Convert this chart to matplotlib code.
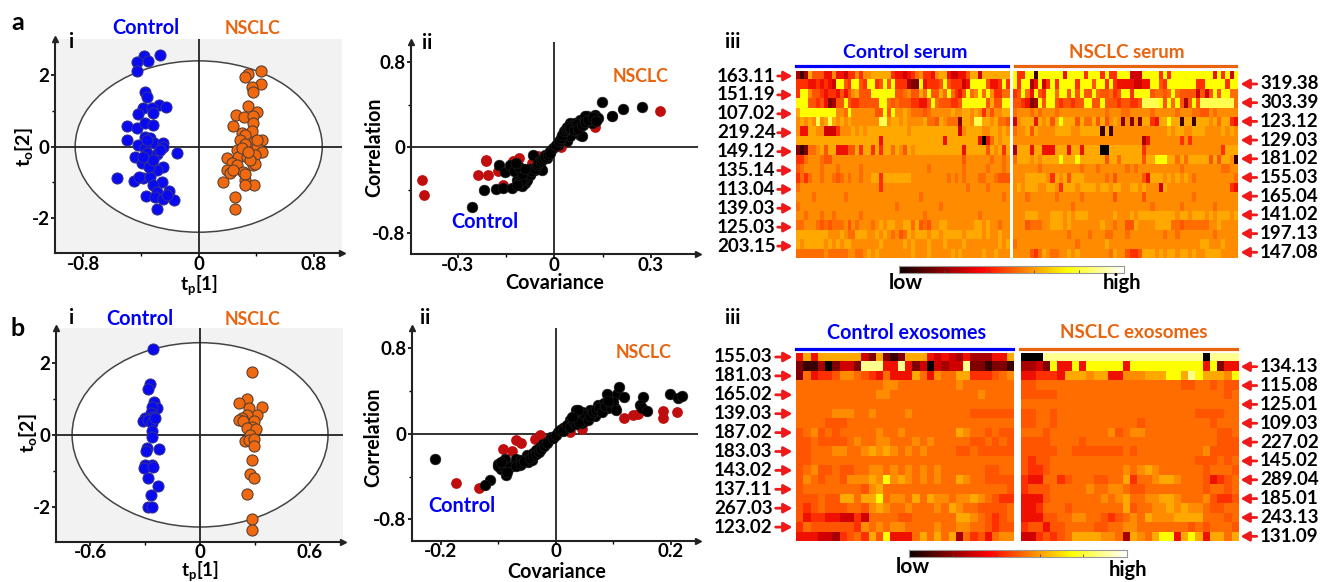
#!/usr/bin/env python
# -*- coding: utf-8 -*-
import numpy as np
import matplotlib
matplotlib.use('agg')
import matplotlib.pyplot as plt
from matplotlib.colors import ListedColormap
from matplotlib.patches import Ellipse

plt.rcParams['font.family'] = ['Lato', 'DejaVu Sans']
plt.rcParams['font.weight'] = 'bold'
plt.rcParams['mathtext.fontset'] = 'custom'
plt.rcParams['mathtext.rm'] = 'Lato:bold'
plt.rcParams['mathtext.default'] = 'rm'

W, H = 1323, 582
BLUE = '#0000f5'
ORANGE = '#e8640f'
# colour of each heatmap level, flatter around the orange than the plain hot map
LEVELS = ['#000000', '#3a0000', '#800000', '#a80000', '#d00000', '#f01000', '#ff3000', '#ff5500',
          '#ff6c00', '#ff8c00', '#ffa800', '#ffff00', '#ffff50', '#ffff90', '#ffffc8', '#ffffff']

## Score plots, serum
a_ctrl_x = [-.268, -.379, -.349, -.425, -.430, -.370, -.358, -.273, -.229, -.388, -.326, -.423, -.314, -.499, -.430,
            -.372, -.319, -.499, -.372, -.338, -.418, -.310, -.245, -.372, -.361, -.291, -.245, -.153, -.442, -.395,
            -.338, -.250, -.291, -.569, -.449, -.384, -.412, -.338, -.257, -.314, -.203, -.368, -.291, -.303, -.245,
            -.171, -.291, -.361, -.270, -.345, -.314, -.384, -.222]
a_ctrl_y = [2.56, 2.53, 2.40, 2.35, 2.11, 1.52, 1.38, 1.17, 1.11, 1.07, 1.07, .91, .93, .58, .51,
            .65, .60, .19, .26, .23, .03, .09, .11, -.05, -.19, -.20, 0, -.17, -.30, -.47,
            -.56, -.58, -.65, -.88, -.95, -.88, -.84, -.84, -.98, -1.07, -1.24, -1.37, -1.28, -1.40, -1.46,
            -1.50, -1.75, .19, -.09, -.56, -.37, -.28, -1.35]
a_nsclc_x = [.430, .345, .321, .430, .372, .375, .340, .402, .259, .317, .379, .379, .236, .298, .372, .321, .287,
             .437, .368, .321, .402, .264, .437, .194, .275, .333, .391, .229, .268, .379, .194, .217, .310, .391,
             .321, .321, .171, .386, .321, .252, .252, .356, .298, .345, .402, .240]
a_nsclc_y = [2.12, 2.03, 1.93, 1.75, 1.66, 1.51, 1.13, .96, .88, .82, .84, .67, .56, .39, .42, .33, .19,
             .19, .09, .07, 0, -.09, -.14, -.31, -.28, -.28, -.23, -.47, -.51, -.51, -.65, -.74, -.70, -.48,
             -.93, -.76, -1.0, -1.07, -1.07, -1.42, -1.74, -.37, -.05, -.14, .19, -.65]

## Score plots, exosomes
b_ctrl_x = [-.260, -.273, -.285, -.251, -.233, -.264, -.269, -.255, -.300, -.313, -.287, -.264, -.245, -.264, -.264,
            -.291, -.296, -.224, -.264, -.300, -.309, -.255, -.282, -.231, -.271, -.285, -.264]
b_ctrl_y = [2.40, 1.42, 1.27, .91, .76, .79, .60, .51, .48, .39, .42, .33, .47, .11, -.07,
            -.37, -.45, -.39, -.84, -.84, -.93, -.91, -1.21, -1.42, -1.69, -2.0, -2.0]
b_nsclc_x = [.282, .258, .215, .340, .269, .309, .255, .227, .215, .295, .236, .282, .255, .305, .273, .245, .269,
             .295, .295, .282, .273, .296, .258, .282, .285]
b_nsclc_y = [1.74, 1.0, .90, .77, .74, .56, .54, .48, .42, .39, .39, .23, .19, .16, 0, -.16, -.14,
             -.11, -.30, -.70, -1.10, -1.21, -1.66, -2.35, -2.66]

## Loading plots, serum
a_black_x = [.147, .215, .272, .179, -.257, -.219, -.183, -.159, -.133, -.102, -.172, -.154, -.138, -.107, -.097,
             -.091, -.076, -.060, -.045, -.065, -.045, -.029, -.013, -.003, .012, .023, .033, .049, .028, .049,
             .080, .101, .127, .137, .080, .085, .116, .038, .059, .070, .090, .111, .127, .049, -.024, -.039,
             -.117, -.102, -.102, -.086, .018, .040, .065, .095, -.125, -.090, -.080, -.110,
             -.095, -.085, -.075, -.070, -.060, -.055, -.050, -.040, -.035, -.030, -.020, -.015, .005, .015, .020,
             .025, .030, .035, .040, .045, .050, .060, .070, .075, .085, .095, .105, .120, .130,
             -.105, -.115, -.100, -.110, -.090, -.120]
a_black_y = [.425, .363, .378, .290, -.559, -.400, -.390, -.381, -.381, -.356, -.163, -.231, -.169, -.194, -.272,
             -.334, -.256, -.209, -.178, -.069, -.116, -.069, -.037, -.006, .025, .088, .134, .228, .119, .166,
             .259, .290, .306, .275, .119, .103, .228, .056, .134, .197, .212, .259, .259, .103, -.100, -.209,
             -.303, -.366, -.225, -.303, .060, .170, .230, .290, -.220, -.240, -.200, -.330,
             -.300, -.270, -.250, -.220, -.200, -.170, -.150, -.130, -.110, -.090, -.070, -.050, .020, .060, .090,
             .120, .150, .170, .190, .200, .180, .160, .220, .170, .210, .240, .260, .280, .250,
             -.320, -.350, -.250, -.180, -.200, -.150]
a_red_x = [.329, -.413, -.407, -.213, -.213, -.238, -.207, -.174, -.130, -.109, -.159, .127, .179, .021, -.050, -.071, -.076]
a_red_y = [.344, -.303, -.444, -.116, -.131, -.259, -.259, -.225, -.131, -.100, -.356, .187, .290, 0, -.084, -.147, -.240]

## Loading plots, exosomes
b_black_x = [-.210, -.115, -.124, -.101, -.095, -.086, -.089, -.074, -.063, -.048, -.051, -.040, -.028, -.016, -.008,
             .004, .016, .024, .035, .041, .039, .053, .059, .074, .088, .106, .091, .103, .109, .119, .152, .146,
             .149, .159, .199, .213, .219, .048, .024, .013, .059, .083, -.069, -.060, -.042, -.034, -.022, -.010,
             .030, .045, .068, .080,
             -.100, -.090, -.080, -.070, -.060, -.055, -.045, -.040, -.035, -.030, -.025, -.020, -.015, -.005, .000,
             .008, .012, .020, .025, .030, .035, .040, .045, .050, .055, .060, .065, .070, .075, .080, .085, .095,
             .100, .105, .090, .038, .028, -.085, -.095]
b_black_y = [-.238, -.434, -.481, -.278, -.325, -.388, -.231, -.294, -.294, -.263, -.200, -.184, -.122, -.075, -.028,
             .019, .066, .128, .222, .206, .159, .159, .206, .269, .369, .369, .238, .238, .441, .341, .347, .269,
             .238, .213, .372, .331, .353, .113, .081, .050, .222, .284, -.231, -.247, -.247, -.153, -.091, -.044,
             .150, .100, .170, .240,
             -.300, -.300, -.310, -.300, -.280, -.250, -.230, -.210, -.190, -.170, -.140, -.110, -.090, -.040, -.010,
             .040, .030, .080, .060, .120, .090, .110, .200, .180, .130, .170, .200, .220, .240, .200, .260, .250,
             .300, .220, .310, .220, .160, -.360, -.260]
b_red_x = [-.174, -.134, -.091, -.076, -.069, -.061, -.037, -.028, .119, .134, .142, .187, .187, .210, .024, .045]
b_red_y = [-.459, -.503, -.138, -.159, -.059, -.084, -.044, -.013, .144, .175, .181, .216, .150, .206, .019, .044]

## Heatmap levels, one hex digit per cell (0 black ... f white)
control_serum = [
    "313a77755 955466969 9aaaaa655 456896659 aa544557a a4aaaaaaa",
    "666556565 4bb76bb76 bb67b7b66 6322b5666 7b766645b bbb7556b6",
    "6bb977656 657579a77 7bbbbbb77 8977a8b77 a8b8657b8 9b8b96688",
    "bbb776752 377b76677 777bb8787 7766557b8 777667bbb bbb7a77bb",
    "abbbbbbbb b998b9999 9977b7b99 a98887899 999a99aa9 a969799aa",
    "9a9a9c9ac a9a9a9999 999cc9aa9 a9999a887 a98882aa9 ccaa9a887",
    "955aa9944 46999a9a9 aaaaaaaaa a9aaaaaaa aaaaa49aa aa99aa9a9",
    "aaaaaaaaa aaaaaaaaa aaa5aaaaa aaaaaaaaa a5aaaaaaa a5058a9aa",
    "212889a7a a55577a6a a6a6aa8a9 7a9aaaaaa aaaaaa5aa aaa7a9a6a",
    "668999877 999999999 999999999 999999999 999999799 999989989",
    "789999899 989999989 999999999 999999899 999999899 999899989",
    "686899899 878989989 9aa6aaaaa aa9999999 998989899 988998777",
    "899999999 999999999 999699999 999999999 999999989 999899999",
    "999989999 999899999 999999999 999989999 999999999 999999989",
    "899999999 999999999 999999989 999999999 899999999 999999999",
    "998999899 899999989 999999999 999998999 999999999 989999999",
    "889998787 888979899 989a9aa99 aa8a78799 aa9999999 aa9a99899",
    "aaaaaaaa9 99a988aaa 99a9a9897 8a9aaa9aa 9aaaaa9aa aa9a99a99",
    "a9aaaaa9a 9a9aa9999 999a99999 a9a999a99 9a9999a99 999999a9a",
    "888888898 888899889 a9a999999 99a999a99 999a9a999 99a99a999",
]
nsclc_serum = [
    "b66bb1bbb bbb5bbbb6 bbb6b66bb b444bbbb6 b6bbbbbbb bbb5b6b4b",
    "b6bb35b46 b6bbbb6bb b7bb6b655 554455bb7 6bbbbbbb6 6bbbbb6bb",
    "67b85b76b b8bb7b7b7 7b877867b b6bbbb788 78b877774 747b7bb88",
    "776523b7b b7677677b b77b77767 7667ccccb 7b8b737b7 cccccccc8",
    "899989899 989999999 999989998 899999899 999899988 779899999",
    "49aaa5a9a 7abaaa7a8 8a7a79a92 9292aa65a abaa1aa1a aa9a8aa65",
    "899a7a999 9aaaa99aa aaa1a1999 999999999 9a9aa99aa a9999a9a9",
    "999999999 999999999 999999999 999935999 999969699 999999999",
    "3aaa5aa55 5aaa5aa5a aaa00aaaa aaaa69999 999999999 999996aaa",
    "8aaa9a9aa aabaaabaa aaaa7aa8a aaaa7aabb baa8a8aaa aa7a7aa91",
    "999999899 999999989 998999999 898999999 999989999 999998899",
    "999aaaaa9 6a9a7aaa9 999989799 999975aaa 9a9a9a989 999999998",
    "9a9aaa99a a96aaa9aa aa9aa9aa9 9aa9a9994 a99999999 999999965",
    "999899999 989999989 999999799 999979999 999999989 999999999",
    "999999999 999998999 999999999 999999899 999989999 999899999",
    "999aaa999 aaa9a9aaa 999999a99 9a9aaaaaa aaa9aa9aa a9a9aaa9a",
    "999788899 aaa9a9999 999a99899 77a9999aa aa8878888 8899a9999",
    "999999999 999989999 899988999 899999999 899899999 999899999",
    "899999999 999999899 9999a9999 999999999 999999999 aa999a999",
    "9999768a9 8899a9a99 999998a99 7667aaa9a 9aa9aa9a9 9aaaa9999",
]
control_exo = [
    "5a5aaaaaa4 2a212aaa54 543533355a",
    "211302442d dd55d52404 344d221221",
    "2856679987 6585 55a859 88aa666789",
    "8888888888 8899888888 8898888888",
    "8888888888 8998888888 8888898888",
    "8888888888 8888888888 8888888888",
    "8888899988 9888898888 8888777777",
    "8888777888 8888888888 8888888888",
    "7897878888 8988988888 88a9887877",
    "7787777898 8998889898 8888778787",
    "7788899889 a9a9898988 8877877777",
    "7788888888 8888888888 8888888888",
    "7897787788 9989898989 8888887788",
    "7987887999 a9b9a98989 88a9887777",
    "7888888887 9a88888888 8888888887",
    "777877aa8a ab8998a8a9 9899a98766",
    "7678777887 9a98898889 8a98877778",
    "7566554464 8888778888 88aa987678",
    "6877777769 8989988889 8899887677",
    "5554436786 a7b5558a8a 8a38675899",
]
nsclc_exo = [
    "000ddddddd dddddddddd ddddd0dddd",
    "3342b55b5b bbbb5bbbbb bbbbb5b255",
    "556665aaa9 aa55999aaa bbadbaaa9b",
    "7788888888 8888888888 8877887877",
    "7777788888 8888888888 8888888878",
    "8888888888 8888888888 8888888888",
    "7788788888 8888888888 8888777788",
    "7788788888 8888887888 8888887888",
    "8887888888 8897899888 8888888778",
    "7777888878 8888888888 8888888777",
    "7777788777 7777878888 8888897777",
    "7677888888 8888888888 8888777878",
    "7667888888 8888989a98 8888878887",
    "6558867888 7788a6889a a988875678",
    "6777888889 8899877888 8888878878",
    "5557888888 8989a8899a a988897667",
    "5568887888 8888a78899 a9a9987788",
    "5557788998 8767898a99 9aaaa88878",
    "6775778888 7788998888 8887878887",
    "4467678aaa a9983a98ab b5aba5aa8a",
]

## m/z labels beside the heatmaps
a_left = ['163.11', '151.19', '107.02', '219.24', '149.12', '135.14', '113.04', '139.03', '125.03', '203.15']
a_right = ['319.38', '303.39', '123.12', '129.03', '181.02', '155.03', '165.04', '141.02', '197.13', '147.08']
b_left = ['155.03', '181.03', '165.02', '139.03', '187.02', '183.03', '143.02', '137.11', '267.03', '123.02']
b_right = ['134.13', '115.08', '125.01', '109.03', '227.02', '145.02', '289.04', '185.01', '243.13', '131.09']


fig = plt.figure(figsize=(W / 100, H / 100), dpi=100)


def px_axes(left, top, right, bottom):
    return fig.add_axes([left / W, 1 - bottom / H, (right - left) / W, (bottom - top) / H])


def label(x, y, s, color='black', size=13.5, ha='center', rotation=0):
    fig.text(x / W, 1 - y / H, s, color=color, fontsize=size, ha=ha, va='center', rotation=rotation)


def base_axes(ax, xlim, ylim, xticks, yticks, xminor, yminor):
    ax.set_xlim(xlim)
    ax.set_ylim(ylim)
    ax.set_xticks(xticks)
    ax.set_yticks(yticks)
    ax.set_xticks(xminor, minor=True)
    ax.set_yticks(yminor, minor=True)
    ax.set_xticklabels(['%g' % t for t in xticks])
    ax.set_yticklabels(['%g' % t for t in yticks])
    ax.tick_params(labelsize=13.5, length=3, width=1.2, pad=1)
    ax.tick_params(axis='x', pad=-1)
    ax.tick_params(which='minor', length=2, width=1)
    for s in ['top', 'right']:
        ax.spines[s].set_visible(False)
    for s in ['left', 'bottom']:
        ax.spines[s].set_linewidth(1.5)
        ax.spines[s].set_color('#222222')
    ax.axhline(0, color='#222222', lw=1.3, zorder=2)
    ax.axvline(0, color='#222222', lw=1.3, zorder=2)
    # arrow heads at the end of both axes
    ax.plot(1, 0, '>', color='#222222', ms=5, transform=ax.transAxes, clip_on=False, zorder=6)
    ax.plot(0, 1, '^', color='#222222', ms=5, transform=ax.transAxes, clip_on=False, zorder=6)


def score_plot(box, xlim, ylim, xticks, xminor, ew, eh, ctrl, nsclc):
    ax = px_axes(*box)
    ax.set_facecolor('#f2f2f2')
    base_axes(ax, xlim, ylim, xticks, [-2, 0, 2], xminor, [-1, 1])
    ax.add_patch(Ellipse((0, 0), ew, eh, fc='white', ec='#444444', lw=1.1, zorder=1))
    ax.scatter(ctrl[0], ctrl[1], s=64, c='#0a0af0', edgecolors='#33338a', linewidths=.7, zorder=4, clip_on=False)
    ax.scatter(nsclc[0], nsclc[1], s=64, c='#f0690f', edgecolors='#5c4030', linewidths=.8, zorder=4, clip_on=False)


def loading_plot(box, xlim, xticks, xminor, black, red):
    ax = px_axes(*box)
    base_axes(ax, xlim, (-1.0, .99), xticks, [-.8, 0, .8], xminor, [-.4, .4])
    ax.scatter(red[0], red[1], s=60, c='#c00d0d', linewidths=0, zorder=3)
    ax.scatter(black[0], black[1], s=60, c='black', edgecolors='#222222', linewidths=.4, zorder=4)


def heatmap(box, rows):
    grid = np.array([[int(c, 16) for c in r.replace(' ', '')] for r in rows])
    ax = px_axes(*box)
    ax.imshow(grid, cmap=ListedColormap(LEVELS), vmin=-.5, vmax=15.5, aspect='auto', interpolation='nearest')
    ax.axis('off')


def scale_bar(box):
    ax = px_axes(*box)
    ax.imshow(np.linspace(0, 1, 256).reshape(1, -1), cmap='hot', aspect='auto')
    ax.set_xticks([51, 102, 153, 204])
    ax.set_xticklabels([])
    ax.set_yticks([])
    ax.tick_params(direction='in', length=2, width=.6, color='#444444')
    for s in ax.spines.values():
        s.set_color('#999999')
        s.set_linewidth(.8)


def row_labels(names, ys, text_x, x_from, x_to, ha):
    for name, y in zip(names, ys):
        label(text_x, y, name, ha=ha, size=13.5)
        fig.add_artist(plt.Annotation('', xy=(x_to / W, 1 - y / H), xytext=(x_from / W, 1 - y / H),
                                      xycoords='figure fraction', textcoords='figure fraction',
                                      arrowprops=dict(arrowstyle='-|>,head_width=.28,head_length=.5', color='#f01818',
                                                      lw=2, shrinkA=0, shrinkB=0)))


## Panel a
score_plot((55, 39, 342, 253), (-.997, .994), (-2.97, 3.0), [-.8, 0, .8], [-.4, .4], 1.714, 4.78,
           (a_ctrl_x, a_ctrl_y), (a_nsclc_x, a_nsclc_y))
loading_plot((411, 41.7, 698, 254), (-.446, .447), [-.3, 0, .3], [-.15, .15],
             (a_black_x, a_black_y), (a_red_x, a_red_y))
heatmap((795.7, 71, 1009, 258.5), control_serum)
heatmap((1013, 71, 1237, 258.5), nsclc_serum)
scale_bar((899, 265.7, 1124, 273))

## Panel b
score_plot((56, 328, 343, 541.7), (-.788, .782), (-2.98, 2.98), [-.6, 0, .6], [-.3, .3], 1.40, 5.14,
           (b_ctrl_x, b_ctrl_y), (b_nsclc_x, b_nsclc_y))
loading_plot((412, 328, 698, 540.7), (-.25, .247), [-.2, 0, .2], [-.1, .1],
             (b_black_x, b_black_y), (b_red_x, b_red_y))
heatmap((795.7, 352.7, 1013, 541), control_exo)
heatmap((1020.7, 352.7, 1238, 541), nsclc_exo)
scale_bar((909, 550, 1127, 557))

## Header bars above the heatmaps
for x0, x1, y, col in [(795.7, 1007.7, 65.7, BLUE), (1014.7, 1236, 65.7, ORANGE),
                       (796, 1013, 348.7, BLUE), (1020, 1237, 348.7, ORANGE)]:
    fig.add_artist(plt.Line2D([x0 / W, x1 / W], [1 - y / H, 1 - y / H], color=col, lw=2.3))

row_labels(a_left, [76 + 18.9 * i for i in range(10)], 775.7, 777.7, 792.3, 'right')
row_labels(a_right, [84 + 18.7 * i for i in range(10)], 1260, 1256.7, 1240.7, 'left')
row_labels(b_left, [357 + 18.9 * i for i in range(10)], 772.7, 775.7, 792.3, 'right')
row_labels(b_right, [366.7 + 18.85 * i for i in range(10)], 1260, 1256.7, 1240.7, 'left')

## Texts
label(18, 23, 'a', size=18)
label(18, 328, 'b', size=18)
for x, y, s in [(72, 42, 'i'), (427, 43, 'ii'), (733, 42, 'iii'), (72, 318, 'i'), (425, 318, 'ii'), (733, 318, 'iii')]:
    label(x, y, s, size=14.5)
for x, y in [(146, 28), (140, 319), (485, 222), (462, 506)]:
    label(x, y, 'Control', color=BLUE, size=14.3)
for x, y in [(253, 28), (253, 319), (641, 76), (644, 353)]:
    label(x, y, 'NSCLC', color=ORANGE, size=12.8)
label(905, 52, 'Control serum', color=BLUE, size=14)
label(1127, 52, 'NSCLC serum', color=ORANGE)
label(907, 333, 'Control exosomes', color=BLUE, size=14.2)
label(1134, 333, 'NSCLC exosomes', color=ORANGE)
label(555, 283, 'Covariance', size=14.2)
label(557, 572, 'Covariance', size=14.2)
label(374, 147, 'Correlation', rotation=90, size=14.1)
label(373, 437, 'Correlation', rotation=90, size=14.1)
label(198.7, 285, r't$_{p}$[1]', size=13.5)
label(200, 571.5, r't$_{p}$[1]', size=13.5)
label(24, 147, r't$_{o}$[2]', rotation=90, size=14)
label(28, 433, r't$_{o}$[2]', rotation=90, size=14)
label(906, 283, 'low', size=15)
label(1122, 283, 'high', size=14.5)
label(913, 567, 'low', size=15)
label(1128, 570, 'high', size=14.5)

plt.savefig('out.png', dpi=100)
